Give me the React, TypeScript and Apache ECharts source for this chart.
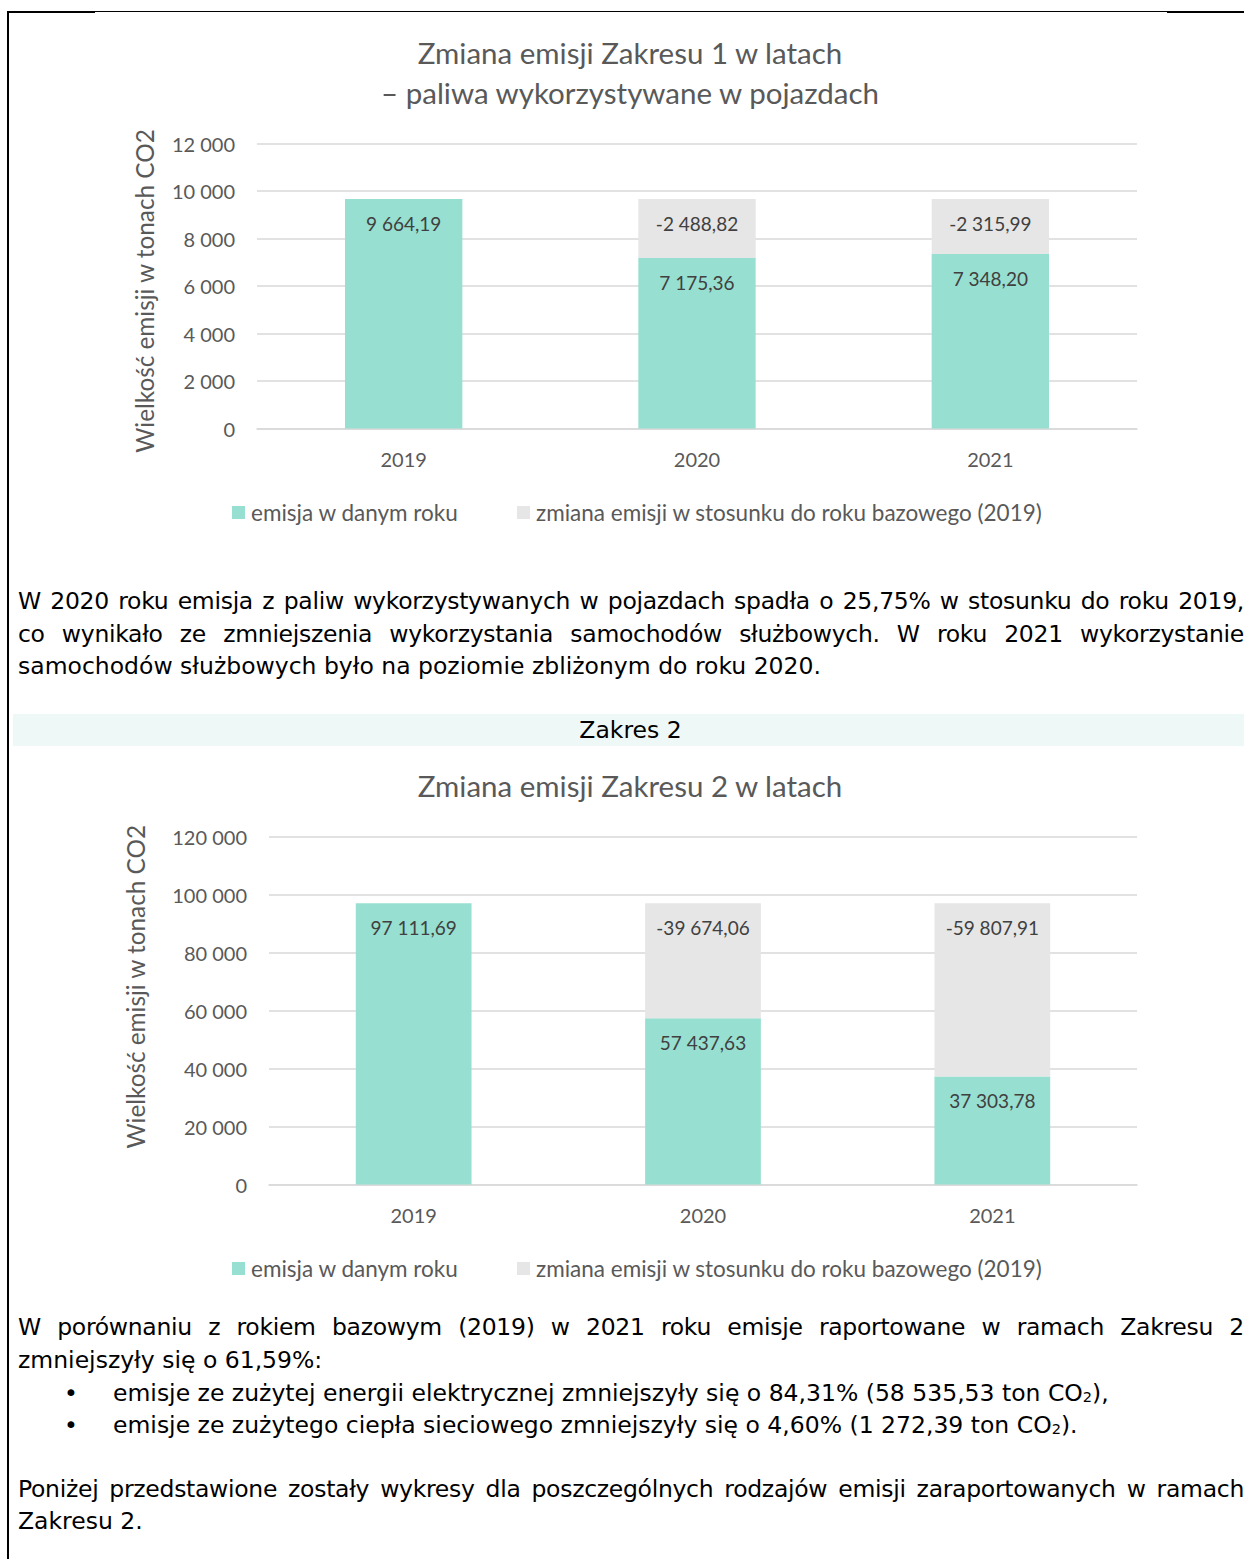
import React, { useEffect, useRef } from "react";
import * as echarts from "echarts";

const years = ["2019", "2020", "2021"];
const scope1Emission = [9664.19, 7175.36, 7348.2];
const scope1Change: (number | null)[] = [null, -2488.82, -2315.99];
const scope2Emission = [97111.69, 57437.63, 37303.78];
const scope2Change: (number | null)[] = [null, -39674.06, -59807.91];
const scope1Axis = { max: 12000, interval: 2000 };
const scope2Axis = { max: 120000, interval: 20000 };
const legendNames = ["emisja w danym roku", "zmiana emisji w stosunku do roku bazowego (2019)"];
const axisName = "Wielkość emisji w tonach CO2";

const CH_FONT = "Lato, 'Noto Sans', sans-serif";
const TXT_FONT = "'DejaVu Sans', Verdana, sans-serif";

function pl(v: number, dec: number): string {
  const neg = v < 0;
  const a = Math.abs(v);
  const parts = a.toFixed(dec).split(".");
  const ip = parts[0].replace(/\B(?=(\d{3})+(?!\d))/g, " ");
  return (neg ? "-" : "") + ip + (parts[1] ? "," + parts[1] : "");
}

type Cfg = {
  title: string;
  titleTop: number;
  emission: number[];
  change: (number | null)[];
  axis: { max: number; interval: number };
  grid: { left: number; right: number; top: number; bottom: number };
  nameGap: number;
  nameShift: number;
  legendTop: number;
};

function makeOption(c: Cfg): any {
  const labelBase = {
    show: true,
    position: "insideTop",
    distance: 15,
    color: "#404040",
    fontSize: 19,
    fontFamily: CH_FONT,
  };
  const legendText = {
    fontFamily: CH_FONT,
    fontSize: 22.5,
    color: "#595959",
    padding: [0, 0, 0, 1],
  };
  const namePad =
    c.nameShift >= 0 ? [0, 2 * c.nameShift, 0, 0] : [0, 0, 0, -2 * c.nameShift];
  return {
    animation: false,
    backgroundColor: "transparent",
    title: {
      text: c.title,
      left: 625,
      textAlign: "center",
      top: c.titleTop,
      textStyle: {
        fontFamily: CH_FONT,
        fontSize: 29.5,
        fontWeight: "normal",
        color: "#595959",
        lineHeight: 40,
      },
    },
    legend: [
      {
        data: [legendNames[0]],
        left: 227,
        top: c.legendTop,
        itemWidth: 13,
        itemHeight: 13,
        icon: "rect",
        textStyle: legendText,
      },
      {
        data: [legendNames[1]],
        left: 512,
        top: c.legendTop,
        itemWidth: 13,
        itemHeight: 13,
        icon: "rect",
        textStyle: legendText,
      },
    ],
    grid: { ...c.grid, containLabel: false, outerBoundsMode: "none" },
    xAxis: {
      type: "category",
      data: years,
      axisTick: { show: false },
      axisLine: { show: true, lineStyle: { color: "#D9D9D9", width: 1.5 } },
      axisLabel: { fontFamily: CH_FONT, fontSize: 20, color: "#595959", margin: 20 },
    },
    yAxis: {
      type: "value",
      min: 0,
      max: c.axis.max,
      interval: c.axis.interval,
      name: axisName,
      nameLocation: "middle",
      nameRotate: 90,
      nameGap: c.nameGap,
      nameTextStyle: {
        fontFamily: CH_FONT,
        fontSize: 24.3,
        color: "#595959",
        padding: namePad,
      },
      axisLine: { show: false },
      axisTick: { show: false },
      splitLine: { lineStyle: { color: "#D9D9D9", width: 1.5 } },
      axisLabel: {
        fontFamily: CH_FONT,
        fontSize: 20,
        color: "#595959",
        margin: 22,
        formatter: (v: number) => pl(v, 0),
      },
    },
    series: [
      {
        name: legendNames[0],
        type: "bar",
        stack: "total",
        barWidth: "40%",
        itemStyle: { color: "#97DFD0" },
        label: { ...labelBase, formatter: (p: any) => pl(c.emission[p.dataIndex], 2) },
        data: c.emission,
      },
      {
        name: legendNames[1],
        type: "bar",
        stack: "total",
        barWidth: "40%",
        itemStyle: { color: "#E6E6E6" },
        label: {
          ...labelBase,
          formatter: (p: any) => {
            const v = c.change[p.dataIndex];
            return v == null ? "" : pl(v, 2);
          },
        },
        data: c.change.map((v) => (v == null ? null : Math.abs(v))),
      },
    ],
  };
}

function Chart({ cfg, style }: { cfg: Cfg; style: React.CSSProperties }) {
  const ref = useRef<HTMLDivElement>(null);
  useEffect(() => {
    if (!ref.current) return;
    const chart = echarts.init(ref.current, undefined, { renderer: "svg" });
    chart.setOption(makeOption(cfg));
    return () => chart.dispose();
  }, []);
  return <div ref={ref} style={{ position: "absolute", ...style }} />;
}

const txt: React.CSSProperties = {
  position: "absolute",
  fontFamily: TXT_FONT,
  fontSize: 23.5,
  lineHeight: "32px",
  height: 32,
  color: "#000",
  whiteSpace: "nowrap",
};

function JLine({ top, children }: { top: number; children: React.ReactNode }) {
  return (
    <div
      style={{
        ...txt,
        left: 18,
        top,
        width: 1226,
        whiteSpace: "normal",
        overflow: "hidden",
        letterSpacing: "-0.3px",
        textAlign: "justify",
        textAlignLast: "justify",
      }}
    >
      {children}
    </div>
  );
}

function Line({ top, left = 18, children }: { top: number; left?: number; children: React.ReactNode }) {
  return <div style={{ ...txt, left, top }}>{children}</div>;
}

const Sub = () => (
  <span style={{ fontSize: "0.62em", verticalAlign: "-0.08em" }}>2</span>
);

export default function App() {
  const cfg1: Cfg = {
    title: "Zmiana emisji Zakresu 1 w latach\n– paliwa wykorzystywane w pojazdach",
    titleTop: 27,
    emission: scope1Emission,
    change: scope1Change,
    axis: scope1Axis,
    grid: { left: 257, right: 107, top: 143.5, bottom: 131.5 },
    nameGap: 101,
    nameShift: 5,
    legendTop: 496,
  };
  const cfg2: Cfg = {
    title: "Zmiana emisji Zakresu 2 w latach",
    titleTop: 0,
    emission: scope2Emission,
    change: scope2Change,
    axis: scope2Axis,
    grid: { left: 269, right: 107, top: 77, bottom: 115.5 },
    nameGap: 122,
    nameShift: -24,
    legendTop: 492,
  };
  return (
    <div
      style={{
        position: "absolute",
        left: 0,
        top: 0,
        width: 1244,
        height: 1559,
        overflow: "hidden",
        background: "#fff",
      }}
    >
      {/* page borders */}
      <div style={{ position: "absolute", left: 7, top: 11, width: 2, height: 1548, background: "#000" }} />
      <div style={{ position: "absolute", left: 7, top: 11, width: 88, height: 2, background: "#000" }} />
      <div style={{ position: "absolute", left: 95, top: 11, width: 1072, height: 1, background: "#000" }} />
      <div style={{ position: "absolute", left: 1167, top: 11, width: 77, height: 2, background: "#000" }} />

      <Chart cfg={cfg1} style={{ left: 0, top: 0, width: 1244, height: 560 }} />

      <JLine top={585}>
        W 2020 roku emisja z paliw wykorzystywanych w pojazdach spadła o 25,75% w stosunku do roku 2019,
      </JLine>
      <JLine top={618}>
        co wynikało ze zmniejszenia wykorzystania samochodów służbowych. W roku 2021 wykorzystanie
      </JLine>
      <Line top={650}>samochodów służbowych było na poziomie zbliżonym do roku 2020.</Line>

      <div style={{ position: "absolute", left: 13, top: 714, width: 1231, height: 32, background: "#EEF8F6" }} />
      <div style={{ ...txt, left: 13, top: 714, width: 1231, textAlign: "center" }}>
        <span style={{ position: "relative", left: 2 }}>Zakres 2</span>
      </div>

      <Chart cfg={cfg2} style={{ left: 0, top: 760, width: 1244, height: 540 }} />

      <JLine top={1311}>
        W porównaniu z rokiem bazowym (2019) w 2021 roku emisje raportowane w ramach Zakresu 2
      </JLine>
      <Line top={1344}>zmniejszyły się o 61,59%:</Line>
      <Line top={1377} left={64}>•</Line>
      <Line top={1377} left={113}>
        emisje ze zużytej energii elektrycznej zmniejszyły się o 84,31% (58 535,53 ton CO<Sub />),
      </Line>
      <Line top={1409} left={64}>•</Line>
      <Line top={1409} left={113}>
        emisje ze zużytego ciepła sieciowego zmniejszyły się o 4,60% (1 272,39 ton CO<Sub />).
      </Line>
      <JLine top={1473}>
        Poniżej przedstawione zostały wykresy dla poszczególnych rodzajów emisji zaraportowanych w ramach
      </JLine>
      <Line top={1505}>Zakresu 2.</Line>
    </div>
  );
}
